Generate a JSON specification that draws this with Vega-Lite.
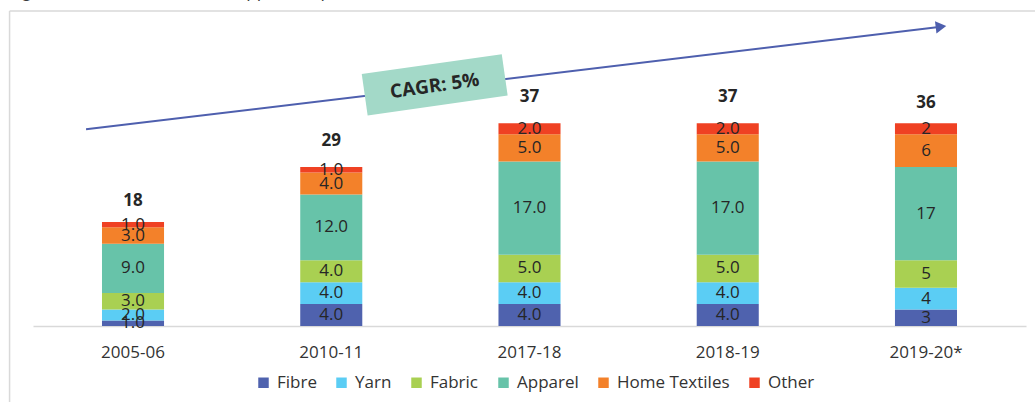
{
  "$schema": "https://vega.github.io/schema/vega-lite/v6.json",
  "width": 993,
  "height": 314,
  "autosize": {"type": "none"},
  "padding": {"left": 33, "top": 12, "right": 9, "bottom": 76},
  "title": {
    "text": "Figure 3: India's Textiles and Apparel Exports (US$ Bn)",
    "anchor": "start",
    "frame": "group",
    "offset": 2,
    "baseline": "alphabetic",
    "dx": -23,
    "dy": 7,
    "font": "Open Sans",
    "fontStyle": "italic",
    "fontWeight": "normal",
    "fontSize": 18,
    "color": "#3a3a3a"
  },
  "config": {
    "view": {"stroke": null},
    "font": "Open Sans"
  },
  "datasets": {
    "segments": [
      {"year": "2005-06", "category": "Fibre", "k": 1, "value": 1, "label": "1.0"},
      {"year": "2005-06", "category": "Yarn", "k": 2, "value": 2, "label": "2.0"},
      {"year": "2005-06", "category": "Fabric", "k": 3, "value": 3, "label": "3.0"},
      {"year": "2005-06", "category": "Apparel", "k": 4, "value": 9, "label": "9.0"},
      {"year": "2005-06", "category": "Home Textiles", "k": 5, "value": 3, "label": "3.0"},
      {"year": "2005-06", "category": "Other", "k": 6, "value": 1, "label": "1.0"},
      {"year": "2010-11", "category": "Fibre", "k": 1, "value": 4, "label": "4.0"},
      {"year": "2010-11", "category": "Yarn", "k": 2, "value": 4, "label": "4.0"},
      {"year": "2010-11", "category": "Fabric", "k": 3, "value": 4, "label": "4.0"},
      {"year": "2010-11", "category": "Apparel", "k": 4, "value": 12, "label": "12.0"},
      {"year": "2010-11", "category": "Home Textiles", "k": 5, "value": 4, "label": "4.0"},
      {"year": "2010-11", "category": "Other", "k": 6, "value": 1, "label": "1.0"},
      {"year": "2017-18", "category": "Fibre", "k": 1, "value": 4, "label": "4.0"},
      {"year": "2017-18", "category": "Yarn", "k": 2, "value": 4, "label": "4.0"},
      {"year": "2017-18", "category": "Fabric", "k": 3, "value": 5, "label": "5.0"},
      {"year": "2017-18", "category": "Apparel", "k": 4, "value": 17, "label": "17.0"},
      {"year": "2017-18", "category": "Home Textiles", "k": 5, "value": 5, "label": "5.0"},
      {"year": "2017-18", "category": "Other", "k": 6, "value": 2, "label": "2.0"},
      {"year": "2018-19", "category": "Fibre", "k": 1, "value": 4, "label": "4.0"},
      {"year": "2018-19", "category": "Yarn", "k": 2, "value": 4, "label": "4.0"},
      {"year": "2018-19", "category": "Fabric", "k": 3, "value": 5, "label": "5.0"},
      {"year": "2018-19", "category": "Apparel", "k": 4, "value": 17, "label": "17.0"},
      {"year": "2018-19", "category": "Home Textiles", "k": 5, "value": 5, "label": "5.0"},
      {"year": "2018-19", "category": "Other", "k": 6, "value": 2, "label": "2.0"},
      {"year": "2019-20*", "category": "Fibre", "k": 1, "value": 3, "label": "3"},
      {"year": "2019-20*", "category": "Yarn", "k": 2, "value": 4, "label": "4"},
      {"year": "2019-20*", "category": "Fabric", "k": 3, "value": 5, "label": "5"},
      {"year": "2019-20*", "category": "Apparel", "k": 4, "value": 17, "label": "17"},
      {"year": "2019-20*", "category": "Home Textiles", "k": 5, "value": 6, "label": "6"},
      {"year": "2019-20*", "category": "Other", "k": 6, "value": 2, "label": "2"}
    ],
    "totals": [
      {"year": "2005-06", "total": 18},
      {"year": "2010-11", "total": 29},
      {"year": "2017-18", "total": 37},
      {"year": "2018-19", "total": 37},
      {"year": "2019-20*", "total": 36}
    ]
  },
  "layer": [
    {
      "layer": [
        {
          "data": {"name": "segments"},
          "mark": {"type": "bar"},
          "encoding": {
            "x": {
              "field": "year", "type": "nominal",
              "scale": {"paddingInner": 0.687, "paddingOuter": 0.348},
              "axis": {
                "title": null, "labelAngle": 0, "ticks": false,
                "labelFont": "Open Sans", "labelFontSize": 17, "labelColor": "#333333",
                "labelPadding": 18, "domainColor": "#d9d9d9", "domainWidth": 1.5
              }
            },
            "y": {
              "field": "value", "type": "quantitative", "stack": "zero",
              "scale": {"domain": [0, 57.3], "nice": false, "zero": true},
              "axis": null
            },
            "color": {
              "field": "category", "type": "nominal",
              "scale": {
                "domain": ["Fibre", "Yarn", "Fabric", "Apparel", "Home Textiles", "Other"],
                "range": ["#4f62ae", "#5bcdf4", "#a9d052", "#67c3a9", "#f3812a", "#ef4123"]
              },
              "legend": {
                "title": null, "orient": "none", "direction": "horizontal",
                "legendX": 222, "legendY": 362, "padding": 0,
                "symbolType": "square", "symbolSize": 110, "symbolStrokeWidth": 0,
                "labelFont": "Open Sans", "labelFontSize": 17, "labelColor": "#333333",
                "labelOffset": 5, "columnPadding": 16
              }
            },
            "order": {"field": "k", "type": "quantitative"}
          }
        },
        {
          "data": {"name": "segments"},
          "mark": {"type": "text", "font": "Open Sans", "fontSize": 17, "color": "#262626", "baseline": "middle"},
          "encoding": {
            "x": {"field": "year", "type": "nominal"},
            "y": {
              "field": "value", "type": "quantitative", "stack": "zero", "bandPosition": 0.5,
              "scale": {"domain": [0, 57.3], "nice": false, "zero": true}
            },
            "detail": {"field": "category"},
            "order": {"field": "k", "type": "quantitative"},
            "text": {"field": "label"}
          }
        },
        {
          "data": {"name": "totals"},
          "mark": {"type": "text", "font": "Open Sans", "fontSize": 17, "fontWeight": "bold", "color": "#262626", "baseline": "middle", "dy": -26},
          "encoding": {
            "x": {"field": "year", "type": "nominal"},
            "y": {"field": "total", "type": "quantitative", "scale": {"domain": [0, 57.3], "nice": false, "zero": true}},
            "text": {"field": "total", "type": "quantitative"}
          }
        }
      ]
    },
    {
      "data": {"values": [{}]},
      "layer": [
        {
          "mark": {"type": "rule", "color": "#d9d9d9", "strokeWidth": 1.5},
          "encoding": {
            "x": {"datum": -0.118, "type": "quantitative", "scale": {"domain": [0, 5], "nice": false, "zero": false}, "axis": null},
            "y": {"datum": 57.5, "type": "quantitative", "scale": {"domain": [0, 57.3], "nice": false, "zero": true}},
            "y2": {"datum": -16}
          }
        },
        {
          "mark": {"type": "rule", "color": "#d9d9d9", "strokeWidth": 1.5},
          "encoding": {
            "x": {"datum": -0.118, "type": "quantitative", "scale": {"domain": [0, 5], "nice": false, "zero": false}, "axis": null},
            "x2": {"datum": 5.1},
            "y": {"datum": 57.5, "type": "quantitative", "scale": {"domain": [0, 57.3], "nice": false, "zero": true}}
          }
        },
        {
          "mark": {"type": "rule", "color": "#4e5fae", "strokeWidth": 2},
          "encoding": {
            "x": {"datum": 0.267, "type": "quantitative", "scale": {"domain": [0, 5], "nice": false, "zero": false}, "axis": null},
            "x2": {"datum": 4.572},
            "y": {"datum": 35.89, "type": "quantitative", "scale": {"domain": [0, 57.3], "nice": false, "zero": true}},
            "y2": {"datum": 54.62}
          }
        },
        {
          "mark": {"type": "point", "shape": "triangle-right", "filled": true, "opacity": 1, "color": "#4e5fae", "size": 150, "angle": -6.84},
          "encoding": {
            "x": {"datum": 4.572, "type": "quantitative", "scale": {"domain": [0, 5], "nice": false, "zero": false}, "axis": null},
            "y": {"datum": 54.62, "type": "quantitative", "scale": {"domain": [0, 57.3], "nice": false, "zero": true}}
          }
        },
        {
          "mark": {"type": "point", "shape": "M-1,-0.296L1,-0.296L1,0.296L-1,0.296Z", "filled": true, "opacity": 1, "color": "#a3d9c8", "strokeWidth": 0, "size": 20000, "angle": -8.1},
          "encoding": {
            "x": {"datum": 2.0227, "type": "quantitative", "scale": {"domain": [0, 5], "nice": false, "zero": false}, "axis": null},
            "y": {"datum": 44.01, "type": "quantitative", "scale": {"domain": [0, 57.3], "nice": false, "zero": true}}
          }
        },
        {
          "mark": {"type": "text", "text": "CAGR: 5%", "font": "Open Sans", "fontSize": 19, "fontWeight": "bold", "color": "#262626", "align": "center", "baseline": "middle", "angle": -8},
          "encoding": {
            "x": {"datum": 2.0227, "type": "quantitative", "scale": {"domain": [0, 5], "nice": false, "zero": false}, "axis": null},
            "y": {"datum": 43.8, "type": "quantitative", "scale": {"domain": [0, 57.3], "nice": false, "zero": true}}
          }
        }
      ]
    }
  ],
  "resolve": {"scale": {"x": "independent"}, "axis": {"x": "independent"}}
}
